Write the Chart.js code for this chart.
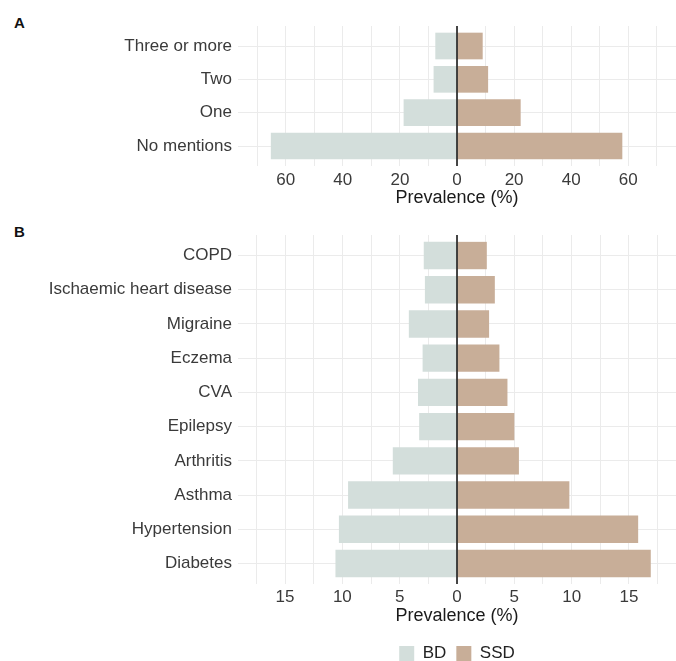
<!DOCTYPE html>
<html><head><meta charset="utf-8">
<script src="https://cdn.jsdelivr.net/npm/chart.js@4.4.1/dist/chart.umd.min.js"></script>
<style>
html,body{margin:0;padding:0;background:#fff;width:676px;height:661px;overflow:hidden;position:relative;font-family:'Liberation Sans',Arial,sans-serif}
canvas{position:absolute;left:0}
#cA{top:0}
#cB{top:216px}
.plab{position:absolute;left:14px;font-weight:bold;font-size:15px;color:#111;line-height:15px}
</style></head><body>
<div class="plab" style="top:15px">A</div>
<div class="plab" style="top:224px">B</div>
<canvas id="cA" width="676" height="216"></canvas>
<canvas id="cB" width="676" height="456"></canvas>
<script>
// ---- data ----
const seriesNames = ['BD', 'SSD'];
const categoriesA = ['Three or more', 'Two', 'One', 'No mentions'];
const bdA  = [7.6, 8.2, 18.7, 65.2];
const ssdA = [9.0, 10.9, 22.3, 57.9];
const categoriesB = ['COPD', 'Ischaemic heart disease', 'Migraine', 'Eczema', 'CVA', 'Epilepsy', 'Arthritis', 'Asthma', 'Hypertension', 'Diabetes'];
const bdB  = [2.9, 2.8, 4.2, 3.0, 3.4, 3.3, 5.6, 9.5, 10.3, 10.6];
const ssdB = [2.6, 3.3, 2.8, 3.7, 4.4, 5.0, 5.4, 9.8, 15.8, 16.9];
const majorTicksA = [-60, -40, -20, 0, 20, 40, 60];
const minorTicksA = [-70, -50, -30, -10, 10, 30, 50, 70];
const majorTicksB = [-15, -10, -5, 0, 5, 10, 15];
const minorTicksB = [-17.5, -12.5, -7.5, -2.5, 2.5, 7.5, 12.5, 17.5];
const axisTitle = 'Prevalence (%)';

// ---- styles ----
const colBD = '#D3DEDB', colSSD = '#C8AE98';
const gridCol = '#EBEBEB', textCol = '#3a3a3a';
Chart.defaults.font.family = "'Liberation Sans', Arial, sans-serif";

const zeroLine = {
  id: 'zeroLine',
  afterDatasetsDraw(chart) {
    const x = chart.scales.x.getPixelForValue(0);
    const a = chart.chartArea, ctx = chart.ctx;
    ctx.save();
    ctx.strokeStyle = '#1a1a1a'; ctx.lineWidth = 1.6;
    ctx.beginPath(); ctx.moveTo(x, a.top); ctx.lineTo(x, a.bottom); ctx.stroke();
    ctx.restore();
  }
};

function makeChart(id, cats, bd, ssd, major, minor, lim, o) {
  const allTicks = major.concat(minor).sort((a, b) => a - b);
  return new Chart(document.getElementById(id), {
    type: 'bar',
    data: {
      labels: cats,
      datasets: [
        { label: seriesNames[0], data: bd.map(v => -v), backgroundColor: colBD, borderWidth: 0, barPercentage: 0.8, categoryPercentage: 1 },
        { label: seriesNames[1], data: ssd, backgroundColor: colSSD, borderWidth: 0, barPercentage: 0.8, categoryPercentage: 1 }
      ]
    },
    options: {
      indexAxis: 'y',
      responsive: false,
      animation: false,
      devicePixelRatio: 1,
      layout: { padding: { top: o.padTop, left: 0, right: 0, bottom: 0 } },
      plugins: {
        tooltip: { enabled: false },
        legend: o.legend ? {
          display: true, position: 'bottom', fullSize: false,
          labels: { boxWidth: 15, boxHeight: 15, padding: 10, color: '#222', font: { size: 17 } }
        } : { display: false }
      },
      scales: {
        x: {
          type: 'linear', min: -lim, max: lim, stacked: true,
          afterBuildTicks: s => { s.ticks = allTicks.map(v => ({ value: v })); },
          ticks: {
            autoSkip: false, maxRotation: 0, padding: o.tickPad, color: textCol, font: { size: 17 },
            callback: v => major.includes(v) ? String(Math.abs(v)) : ''
          },
          grid: { drawTicks: false, color: gridCol, lineWidth: 1 },
          border: { display: false },
          title: { display: true, text: axisTitle, color: '#1a1a1a', font: { size: 18 }, padding: { top: 0, bottom: o.titlePad } },
          afterFit: s => { s.height = o.xH; }
        },
        y: {
          type: 'category', stacked: true, offset: true,
          afterBuildTicks: s => { s._startValue = s.min - 0.6; s._valueRange = (s.max - s.min) + 1.2; },
          grid: { offset: false, drawTicks: false, color: gridCol, lineWidth: 1 },
          border: { display: false },
          ticks: { autoSkip: false, padding: 6, color: textCol, font: { size: 17 } },
          afterFit: s => { s.width = 238; }
        }
      }
    },
    plugins: [zeroLine]
  });
}

makeChart('cA', categoriesA, bdA, ssdA, majorTicksA, minorTicksA, 76.7, { padTop: 26, xH: 50, tickPad: 4, titlePad: 7, legend: false });
makeChart('cB', categoriesB, bdB, ssdB, majorTicksB, minorTicksB, 19.1, { padTop: 19, xH: 51, tickPad: 3, titlePad: 8, legend: true });
</script>
</body></html>
